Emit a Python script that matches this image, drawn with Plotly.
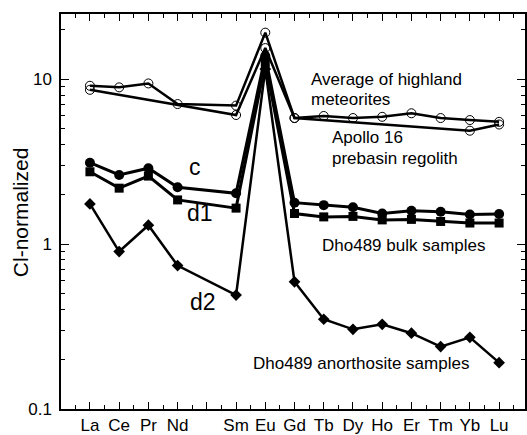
import plotly.graph_objects as go

# Element labels and atomic numbers (Pm skipped)
elements = ["La", "Ce", "Pr", "Nd", "Sm", "Eu", "Gd", "Tb", "Dy", "Ho", "Er", "Tm", "Yb", "Lu"]
atomic = [57, 58, 59, 60, 62, 63, 64, 65, 66, 67, 68, 69, 70, 71]

# Average of highland meteorites (open circles)
meteor = [9.1, 8.9, 9.4, 7.05, 6.9, 19.1, 5.8, 5.97, 5.8, 5.9, 6.2, 5.8, 5.64, 5.5]

# Apollo 16 prebasin regolith (open circles, fewer elements)
apollo_el = ["La", "Sm", "Eu", "Gd", "Yb", "Lu"]
apollo_x = [57, 62, 63, 64, 70, 71]
apollo = [8.6, 6.05, 15.4, 5.8, 4.86, 5.3]

# Dho489 bulk samples
bulk_c = [3.11, 2.62, 2.88, 2.21, 2.03, 13.8, 1.78, 1.72, 1.67, 1.53, 1.59, 1.57, 1.51, 1.52]
bulk_d1 = [2.74, 2.18, 2.58, 1.85, 1.65, 12.5, 1.53, 1.46, 1.47, 1.40, 1.41, 1.37, 1.34, 1.34]

# Dho489 anorthosite sample
anor_d2 = [1.75, 0.90, 1.30, 0.74, 0.49, 11.5, 0.59, 0.35, 0.304, 0.326, 0.288, 0.239, 0.272, 0.191]

tick_pos = [57, 58, 59, 60, 61, 62, 63, 64, 65, 66, 67, 68, 69, 70, 71]
tick_txt = ["La", "Ce", "Pr", "Nd", "", "Sm", "Eu", "Gd", "Tb", "Dy", "Ho", "Er", "Tm", "Yb", "Lu"]

FONT = "Liberation Sans, Arial, Helvetica, sans-serif"

fig = go.Figure()
fig.add_trace(go.Scatter(x=apollo_x, y=apollo, mode="lines+markers",
                         line=dict(color="black", width=2.5),
                         marker=dict(symbol="circle-open", size=9, color="black", line=dict(width=1))))
fig.add_trace(go.Scatter(x=atomic, y=meteor, mode="lines+markers",
                         line=dict(color="black", width=2.5),
                         marker=dict(symbol="circle-open", size=9, color="black", line=dict(width=1))))
fig.add_trace(go.Scatter(x=atomic, y=bulk_c, mode="lines+markers",
                         line=dict(color="black", width=3),
                         marker=dict(symbol="circle", size=10, color="black")))
fig.add_trace(go.Scatter(x=atomic, y=bulk_d1, mode="lines+markers",
                         line=dict(color="black", width=3),
                         marker=dict(symbol="square", size=9, color="black")))
fig.add_trace(go.Scatter(x=atomic, y=anor_d2, mode="lines+markers",
                         line=dict(color="black", width=2.5),
                         marker=dict(symbol="diamond", size=9, color="black")))

W, H = 527, 435
L, R, T, B = 61, 0, 14, 26
pw, ph = W - L - R, H - T - B


def px(xp):
    return (xp - L) / pw


def py(yp):
    return (T + ph - yp) / ph


ann = []


def add(text, xp, yp, size=17, xanchor="left"):
    ann.append(dict(text=text, x=px(xp), y=py(yp), xref="paper", yref="paper",
                    xanchor=xanchor, yanchor="middle", showarrow=False,
                    font=dict(family=FONT, size=size, color="black")))


add("Average of highland", 310, 79)
add("meteorites", 310, 99)
add("Apollo 16", 331, 137)
add("prebasin regolith", 331, 158)
add("c", 196, 167, size=23, xanchor="center")
add("d1", 186, 213, size=23)
add("d2", 189, 302, size=23)
add("Dho489 bulk samples", 321, 245)
add("Dho489 anorthosite samples", 252, 363)

ann.append(dict(text="Cl-normalized", x=px(20), y=py(212), xref="paper", yref="paper",
                xanchor="center", yanchor="middle", showarrow=False, textangle=-90,
                font=dict(family=FONT, size=21, color="black")))

fig.update_layout(
    width=W, height=H,
    margin=dict(l=L, r=R, t=T, b=B, pad=0),
    paper_bgcolor="white", plot_bgcolor="white",
    showlegend=False,
    annotations=ann,
    font=dict(family=FONT, color="black"),
)
fig.update_xaxes(range=[56.01, 71.886], tickmode="array", tickvals=tick_pos, ticktext=tick_txt,
                 ticks="inside", ticklen=7, tickwidth=1.2, tickcolor="black",
                 showline=True, linecolor="black", linewidth=1.5, mirror="ticks",
                 showgrid=False, zeroline=False,
                 tickfont=dict(family=FONT, size=17, color="black"),
                 minor=dict(tickmode="linear", tick0=56.5, dtick=1, ticks="inside", ticklen=4,
                            tickwidth=1, tickcolor="black", showgrid=False))
fig.update_yaxes(type="log", range=[-1, 1.394], tickmode="array", tickvals=[0.1, 1, 10],
                 ticktext=["0.1", "1", "10"],
                 ticks="inside", ticklen=8, tickwidth=1.2, tickcolor="black",
                 showline=True, linecolor="black", linewidth=1.5, mirror="ticks",
                 showgrid=False, zeroline=False, ticklabelstandoff=4,
                 tickfont=dict(family=FONT, size=17, color="black"),
                 minor=dict(tickmode="array",
                            tickvals=[0.2, 0.3, 0.4, 0.5, 0.6, 0.7, 0.8, 0.9,
                                      2, 3, 4, 5, 6, 7, 8, 9, 20],
                            ticks="inside", ticklen=4, tickwidth=1, tickcolor="black",
                            showgrid=False))

fig.write_html("out.html")
